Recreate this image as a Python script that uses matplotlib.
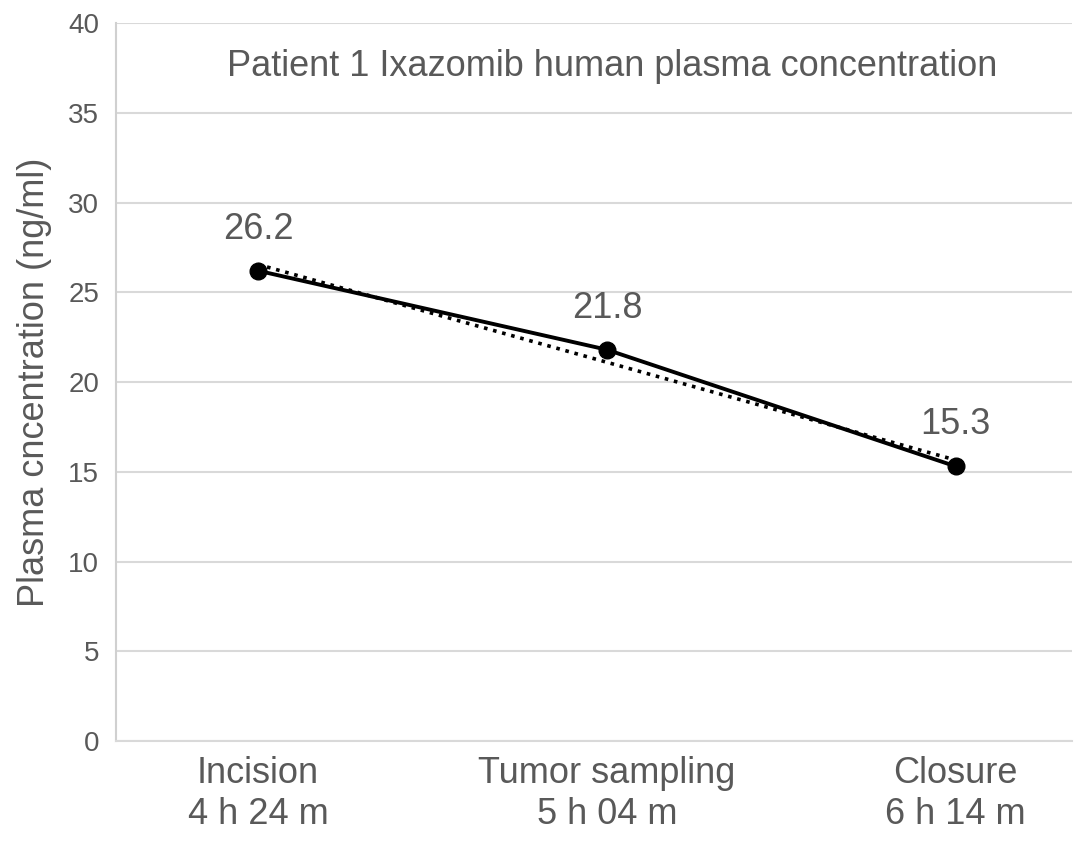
import numpy as np
import matplotlib.pyplot as plt

# ---- Data ----
stages = ["Incision\n4 h 24 m", "Tumor sampling\n5 h 04 m", "Closure\n6 h 14 m"]
conc = [26.2, 21.8, 15.3]
yticks = [0, 5, 10, 15, 20, 25, 30, 35, 40]

gray = "#595959"
plt.rcParams['font.family'] = ['Liberation Sans', 'DejaVu Sans']

fig = plt.figure(figsize=(10.87, 8.42), dpi=100)
ax = fig.add_axes([0.1067, 0.1199, 0.8795, 0.8528])

x = np.arange(len(conc))

# linear trendline (least squares through the points)
k, b = np.polyfit(x, conc, 1)
ax.plot(x, k * x + b, color="black", linestyle=(0, (1, 1.6)), linewidth=2.6, zorder=3)

ax.plot(x, conc, color="black", linewidth=2.8, marker="o", markersize=12, zorder=4)

for xi, v in zip(x, conc):
    ax.annotate(f"{v}", (xi, v), xytext=(0, 30), textcoords="offset points",
                ha="center", va="center", fontsize=26, color=gray)

ax.set_xlim(-0.407, 2.333)
ax.set_ylim(0, 40)
ax.set_yticks(yticks)
ax.set_xticks(x)
ax.set_xticklabels(stages, fontsize=26, color=gray, linespacing=1.22)
ax.tick_params(axis="y", labelsize=20, labelcolor=gray, length=0, pad=12)
ax.tick_params(axis="x", length=0, pad=11)

ax.grid(axis="y", color="#d9d9d9", linewidth=1.5)
ax.set_axisbelow(True)
for side in ["top", "right"]:
    ax.spines[side].set_visible(False)
ax.spines["left"].set_color("#d0d0d0")
ax.spines["left"].set_linewidth(1.5)
ax.spines["bottom"].set_color("#d9d9d9")
ax.spines["bottom"].set_linewidth(1.5)

ax.set_ylabel("Plasma cncentration (ng/ml)", fontsize=26, color=gray, labelpad=12)
ax.text(0.519, 0.94, "Patient 1 Ixazomib human plasma concentration",
        transform=ax.transAxes, ha="center", va="center", fontsize=26, color=gray)

fig.savefig("out.png", dpi=100)
